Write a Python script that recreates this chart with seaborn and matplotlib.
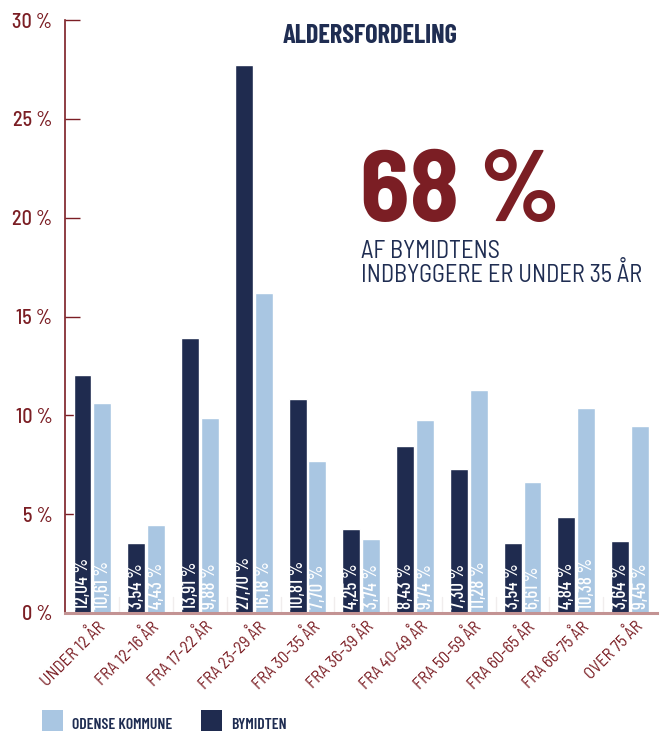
import matplotlib
matplotlib.use("Agg")
import matplotlib.pyplot as plt
import seaborn as sns
import pandas as pd
from matplotlib.patches import Rectangle
import matplotlib.transforms as mtransforms

categories = ["UNDER 12 ÅR", "FRA 12-16 ÅR", "FRA 17-22 ÅR", "FRA 23-29 ÅR", "FRA 30-35 ÅR",
              "FRA 36-39 ÅR", "FRA 40-49 ÅR", "FRA 50-59 ÅR", "FRA 60-65 ÅR", "FRA 66-75 ÅR",
              "OVER 75 ÅR"]
bymidten = [12.04, 3.54, 13.91, 27.70, 10.81, 4.25, 8.43, 7.30, 3.54, 4.84, 3.64]
odense = [10.61, 4.43, 9.88, 16.18, 7.70, 3.74, 9.74, 11.28, 6.61, 10.38, 9.45]
series_names = ["BYMIDTEN", "ODENSE KOMMUNE"]
yticks = [0, 5, 10, 15, 20, 25, 30]

DARK = "#1f2b4f"
LIGHT = "#a9c6e2"
RED = "#7b1e24"
NAVY = "#1f2d52"
SEMI = ["Barlow Semi Condensed", "DejaVu Sans"]
COND = ["Barlow Condensed", "DejaVu Sans"]

sns.set_theme(style="white")
plt.rcParams["font.family"] = SEMI
plt.rcParams["font.stretch"] = "condensed"

rows = []
for c, b, o in zip(categories, bymidten, odense):
    rows.append({"cat": c, "serie": series_names[0], "val": b})
    rows.append({"cat": c, "serie": series_names[1], "val": o})
df = pd.DataFrame(rows)

fig = plt.figure(figsize=(6.62, 7.31), dpi=100)
ax = fig.add_axes([65 / 662, 118 / 731, 592 / 662, 593 / 731])

sns.barplot(data=df, x="cat", y="val", hue="serie", order=categories,
            hue_order=series_names, palette=[DARK, LIGHT], width=0.74, gap=0.1,
            ax=ax, legend=False, saturation=1)

ax.set_xlim(-0.51, 10.5)
ax.set_ylim(0, 30)
ax.set_xlabel("")
ax.set_ylabel("")

for i in range(len(categories) - 1):
    ax.plot([i + 0.5, i + 0.5], [0, 0.8], color="#f0eded", lw=1, zorder=0)

for cont in ax.containers:
    for rect in cont:
        h = rect.get_height()
        ax.text(rect.get_x() + rect.get_width() / 2 + 0.01, 0.2, f"{h:.2f} %".replace(".", ","),
                rotation=90, ha="center", va="bottom", color="white", fontsize=13.4,
                family=COND, fontweight="medium")

ax.set_yticks(yticks)
ax.set_yticklabels([f"{t} %" for t in yticks], color=RED, fontsize=14.5, fontweight="medium")
ax.tick_params(axis="y", direction="in", length=11, width=1, color=RED, pad=9, left=True)
ax.tick_params(axis="x", length=0, pad=3)
offset = mtransforms.ScaledTranslation(3 / 100, 0, fig.dpi_scale_trans)
for lab in ax.get_xticklabels():
    lab.set_rotation(45)
    lab.set_ha("right")
    lab.set_rotation_mode("anchor")
    lab.set_color(RED)
    lab.set_fontsize(12.2)
    lab.set_family(SEMI)
    lab.set_transform(lab.get_transform() + offset)

for s in ["top", "right"]:
    ax.spines[s].set_visible(False)
ax.spines["left"].set_color(RED)
ax.spines["left"].set_linewidth(1.2)
ax.spines["bottom"].set_color("#c39393")
ax.spines["bottom"].set_linewidth(2.2)

fig.text(370 / 662, 1 - 43 / 731, "ALDERSFORDELING", ha="center", va="baseline",
         color=NAVY, fontsize=19, fontweight="bold", family=COND)
fig.text(360 / 662, 1 - 221 / 731, "68 %", ha="left", va="baseline",
         color=RED, fontsize=73, fontweight="bold")
fig.text(361 / 662, 1 - 282 / 731, "AF BYMIDTENS\nINDBYGGERE ER UNDER 35 ÅR", ha="left",
         va="baseline", color=NAVY, fontsize=17.5, linespacing=0.94)

leg_items = [(42, LIGHT, "ODENSE KOMMUNE"), (201, DARK, "BYMIDTEN")]
for x0, col, lab in leg_items:
    fig.patches.append(Rectangle((x0 / 662, 0), 21 / 662, 21 / 731, transform=fig.transFigure,
                                 facecolor=col, edgecolor="none"))
    fig.text((x0 + 30) / 662, 1 - 729 / 731, lab, ha="left", va="baseline", color=NAVY,
             fontsize=11.3, fontweight="semibold", family=COND)

fig.savefig("out.png", dpi=100)
